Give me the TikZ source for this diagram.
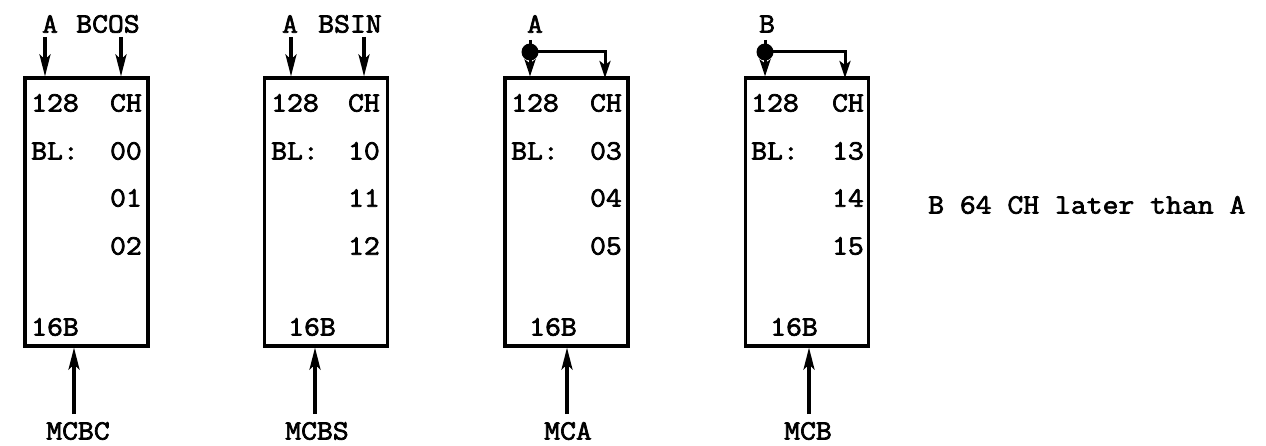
\documentclass[tikz,border=0pt]{standalone}
\usepackage{fontspec}
\newfontfamily\tw{Latin Modern Mono}[FakeBold=2.5,FakeStretch=1.1]
\usetikzlibrary{arrows.meta,calc}
\tikzset{
  blk/.style={draw,line width=3.2pt,minimum width=123pt,minimum height=268pt,inner sep=0pt},
  txt/.style={inner sep=0pt,font=\tw\fontsize{28}{32}\selectfont},
  lt/.style={txt,anchor=west},
  rt/.style={txt,anchor=east},
  arr/.style={line width=3.2pt,-{Stealth[length=22pt,width=11pt,inset=5pt]}},
  sarr/.style={line width=3pt,-{Stealth[length=17pt,width=11pt,inset=4pt]}},
  ln/.style={line width=3pt},
  dot/.style={circle,fill,inner sep=0pt,minimum size=17pt}
}
\begin{document}
\begin{tikzpicture}[x=1pt,y=-1pt]
\useasboundingbox (0,0) rectangle (1266,446);
% boxes
\node[blk] (b1) at (86.5,212) {};
\node[blk] (b2) at (326,212) {};
\node[blk] (b3) at (566.5,212) {};
\node[blk] (b4) at (807,212) {};
% box 1 text
\node[lt] (t1a) at (31,103) {128};
\node[rt] (t1b) at (142,103) {CH};
\node[lt] (t1c) at (31,151) {BL:};
\node[rt] (t1d) at (142,151) {00};
\node[rt] (t1e) at (142,198) {01};
\node[rt] (t1f) at (142,246) {02};
\node[lt] (t1g) at (31,327) {16B};
% box 2 text
\node[lt] (t2a) at (271,103) {128};
\node[rt] (t2b) at (380,103) {CH};
\node[lt] (t2c) at (271,151) {BL:};
\node[rt] (t2d) at (380,151) {10};
\node[rt] (t2e) at (380,198) {11};
\node[rt] (t2f) at (380,246) {12};
\node[lt] (t2g) at (288,327) {16B};
% box 3 text
\node[lt] (t3a) at (511,103) {128};
\node[rt] (t3b) at (622,103) {CH};
\node[lt] (t3c) at (511,151) {BL:};
\node[rt] (t3d) at (622,151) {03};
\node[rt] (t3e) at (622,198) {04};
\node[rt] (t3f) at (622,246) {05};
\node[lt] (t3g) at (529,327) {16B};
% box 4 text
\node[lt] (t4a) at (751,103) {128};
\node[rt] (t4b) at (864,103) {CH};
\node[lt] (t4c) at (751,151) {BL:};
\node[rt] (t4d) at (864,151) {13};
\node[rt] (t4e) at (864,198) {14};
\node[rt] (t4f) at (864,246) {15};
\node[lt] (t4g) at (770,327) {16B};
% side note
\node[lt] (note) at (928,205) {B 64 CH later than A};
% top labels
\node[txt] (l1a) at (50,24) {A};
\node[txt] (l1b) at (108,24) {BCOS};
\node[txt] (l2a) at (290,24) {A};
\node[txt] (l2b) at (350,24) {BSIN};
\node[txt] (l3a) at (535,24) {A};
\node[txt] (l4a) at (767,24) {B};
% top arrows boxes 1,2
\coordinate (s1a) at (45,37);
\coordinate (s1b) at (121,37);
\coordinate (s2a) at (291,37);
\coordinate (s2b) at (364,37);
\draw[arr] (s1a) -- (s1a |- b1.north);
\draw[arr] (s1b) -- (s1b |- b1.north);
\draw[arr] (s2a) -- (s2a |- b2.north);
\draw[arr] (s2b) -- (s2b |- b2.north);
% box 3 and 4 split inputs
\coordinate (s3) at (530,40);
\coordinate (s4) at (765,40);
\node[dot] (d3) at (530,52) {};
\node[dot] (d4) at (765,52) {};
\coordinate (r3) at (605,78);
\coordinate (r4) at (845,78);
\draw[ln] (s3) -- (d3.center);
\draw[ln] (s4) -- (d4.center);
\draw[sarr] (d3.center) -- (d3 |- b3.north);
\draw[sarr] (d4.center) -- (d4 |- b4.north);
\draw[sarr] (d3.center) -| (r3);
\draw[sarr] (d4.center) -| (r4);
% bottom arrows
\coordinate (m1) at (74,414);
\coordinate (m2) at (315,414);
\coordinate (m3) at (567,414);
\coordinate (m4) at (809,414);
\draw[arr] (m1) -- (m1 |- b1.south);
\draw[arr] (m2) -- (m2 |- b2.south);
\draw[arr] (m3) -- (m3 |- b3.south);
\draw[arr] (m4) -- (m4 |- b4.south);
\node[txt] (n1) at (78,431) {MCBC};
\node[txt] (n2) at (317,431) {MCBS};
\node[txt] (n3) at (568,431) {MCA};
\node[txt] (n4) at (808,431) {MCB};
\end{tikzpicture}
\end{document}
